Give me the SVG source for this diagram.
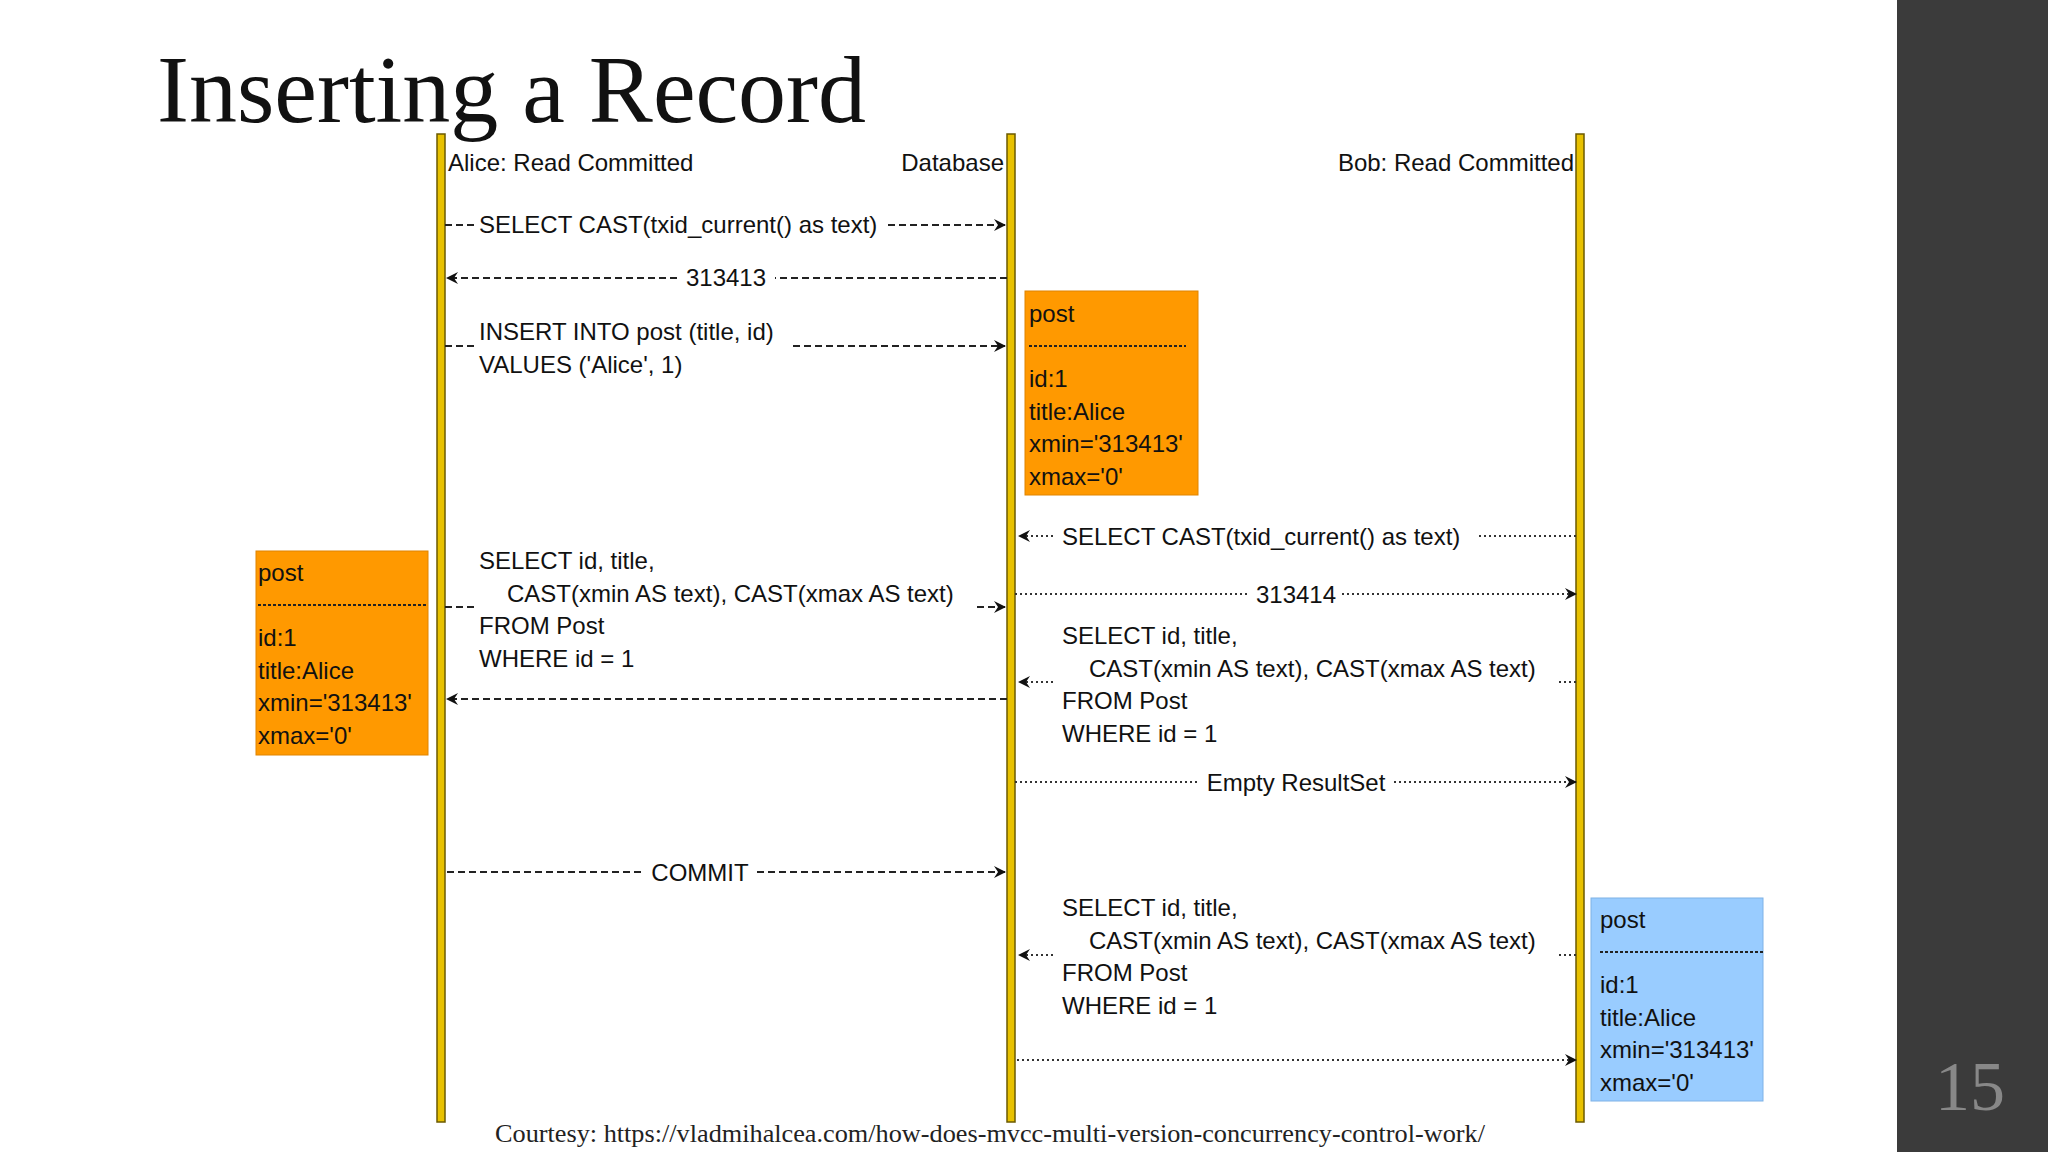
<svg xmlns="http://www.w3.org/2000/svg" width="2048" height="1152" viewBox="0 0 2048 1152">
<defs>
<marker id="ah" viewBox="0 0 12 12" refX="11" refY="6" markerWidth="12" markerHeight="12" markerUnits="userSpaceOnUse" orient="auto">
<path d="M0,0 L12,6 L0,12 L4,6 Z" fill="#111"/>
</marker>
</defs>
<style>
.t{font-family:"Liberation Sans",Arial,sans-serif;font-size:24px;fill:#111}
.hd{font-family:"Liberation Sans",Arial,sans-serif;font-size:24px;fill:#111}
.life{fill:#e8c100;stroke:#6b5a00;stroke-width:1.5}
.da{stroke:#222;stroke-width:2;stroke-dasharray:7,4;fill:none}
.do{stroke:#333;stroke-width:2;stroke-dasharray:2,3;fill:none}
.or{fill:#ff9900;stroke:#e08400;stroke-width:1}
.bl{fill:#99ccff;stroke:#7fb2e6;stroke-width:1}
.bx{font-family:"Liberation Sans",Arial,sans-serif;font-size:24px;fill:#111}
</style>
<rect width="2048" height="1152" fill="#ffffff"/>
<rect x="1897" y="0" width="151" height="1152" fill="#3b3b3b"/>
<text x="157" y="122" font-family="Liberation Serif,serif" font-size="96" fill="#111">Inserting a Record</text>
<text x="1935" y="1110" font-family="Liberation Serif,serif" font-size="70" fill="#888">15</text>

<g id="lifelines">
<rect class="life" x="437" y="134" width="8" height="988"/>
<rect class="life" x="1007" y="134" width="8" height="988"/>
<rect class="life" x="1576" y="134" width="8" height="988"/>
<text class="hd" x="448" y="171">Alice: Read Committed</text>
<text class="hd" x="1004" y="171" text-anchor="end">Database</text>
<text class="hd" x="1574" y="171" text-anchor="end">Bob: Read Committed</text>
</g>

<g id="connectors">
<path class="da" d="M445,225 H476 M888,225 H1005" marker-end="url(#ah)"/>
<text class="t" x="479" y="233">SELECT CAST(txid_current() as text)</text>
<path class="da" d="M1007,278 H775 M677,278 H447" marker-end="url(#ah)"/>
<text class="t" x="726" y="286" text-anchor="middle">313413</text>
<path class="da" d="M445,346 H476 M793,346 H1005" marker-end="url(#ah)"/>
<text class="t" x="479" y="340">INSERT INTO post (title, id)</text>
<text class="t" x="479" y="373">VALUES ('Alice', 1)</text>
<path class="do" d="M1576,536 H1478 M1053,536 H1019" marker-end="url(#ah)"/>
<text class="t" x="1062" y="545">SELECT CAST(txid_current() as text)</text>
<path class="da" d="M445,607 H476 M977,607 H1005" marker-end="url(#ah)"/>
<text class="t" x="479" y="569">SELECT id, title,</text>
<text class="t" x="507" y="602">CAST(xmin AS text), CAST(xmax AS text)</text>
<text class="t" x="479" y="634">FROM Post</text>
<text class="t" x="479" y="667">WHERE id = 1</text>
<path class="do" d="M1015,594 H1250 M1342,594 H1576" marker-end="url(#ah)"/>
<text class="t" x="1296" y="603" text-anchor="middle">313414</text>
<path class="do" d="M1576,682 H1556 M1053,682 H1019" marker-end="url(#ah)"/>
<text class="t" x="1062" y="644">SELECT id, title,</text>
<text class="t" x="1089" y="677">CAST(xmin AS text), CAST(xmax AS text)</text>
<text class="t" x="1062" y="709">FROM Post</text>
<text class="t" x="1062" y="742">WHERE id = 1</text>
<path class="da" d="M1007,699 H447" marker-end="url(#ah)"/>
<path class="do" d="M1015,782 H1198 M1394,782 H1576" marker-end="url(#ah)"/>
<text class="t" x="1296" y="791" text-anchor="middle">Empty ResultSet</text>
<path class="da" d="M447,872 H645 M757,872 H1005" marker-end="url(#ah)"/>
<text class="t" x="700" y="881" text-anchor="middle">COMMIT</text>
<path class="do" d="M1576,955 H1556 M1053,955 H1019" marker-end="url(#ah)"/>
<text class="t" x="1062" y="916">SELECT id, title,</text>
<text class="t" x="1089" y="949">CAST(xmin AS text), CAST(xmax AS text)</text>
<text class="t" x="1062" y="981">FROM Post</text>
<text class="t" x="1062" y="1014">WHERE id = 1</text>
<path class="do" d="M1017,1060 H1576" marker-end="url(#ah)"/>
</g>

<g id="db-post">
<rect class="or" x="1025" y="291" width="173" height="204"/>
<text class="bx" x="1029" y="322">post</text>
<line x1="1029" y1="346" x2="1186" y2="346" stroke="#222" stroke-width="2" stroke-dasharray="3,2"/>
<text class="bx" x="1029" y="387">id:1</text>
<text class="bx" x="1029" y="420">title:Alice</text>
<text class="bx" x="1029" y="452">xmin='313413'</text>
<text class="bx" x="1029" y="485">xmax='0'</text>
</g>

<g id="alice-post">
<rect class="or" x="256" y="551" width="172" height="204"/>
<text class="bx" x="258" y="581">post</text>
<line x1="258" y1="605" x2="428" y2="605" stroke="#222" stroke-width="2" stroke-dasharray="3,2"/>
<text class="bx" x="258" y="646">id:1</text>
<text class="bx" x="258" y="679">title:Alice</text>
<text class="bx" x="258" y="711">xmin='313413'</text>
<text class="bx" x="258" y="744">xmax='0'</text>
</g>

<g id="bob-post">
<rect class="bl" x="1591" y="898" width="172" height="203"/>
<text class="bx" x="1600" y="928">post</text>
<line x1="1600" y1="952" x2="1763" y2="952" stroke="#222" stroke-width="2" stroke-dasharray="3,2"/>
<text class="bx" x="1600" y="993">id:1</text>
<text class="bx" x="1600" y="1026">title:Alice</text>
<text class="bx" x="1600" y="1058">xmin='313413'</text>
<text class="bx" x="1600" y="1091">xmax='0'</text>
</g>

<text x="990" y="1142" text-anchor="middle" font-family="Liberation Serif,serif" font-size="26" fill="#222" textLength="990" lengthAdjust="spacingAndGlyphs">Courtesy: https://vladmihalcea.com/how-does-mvcc-multi-version-concurrency-control-work/</text>
</svg>
